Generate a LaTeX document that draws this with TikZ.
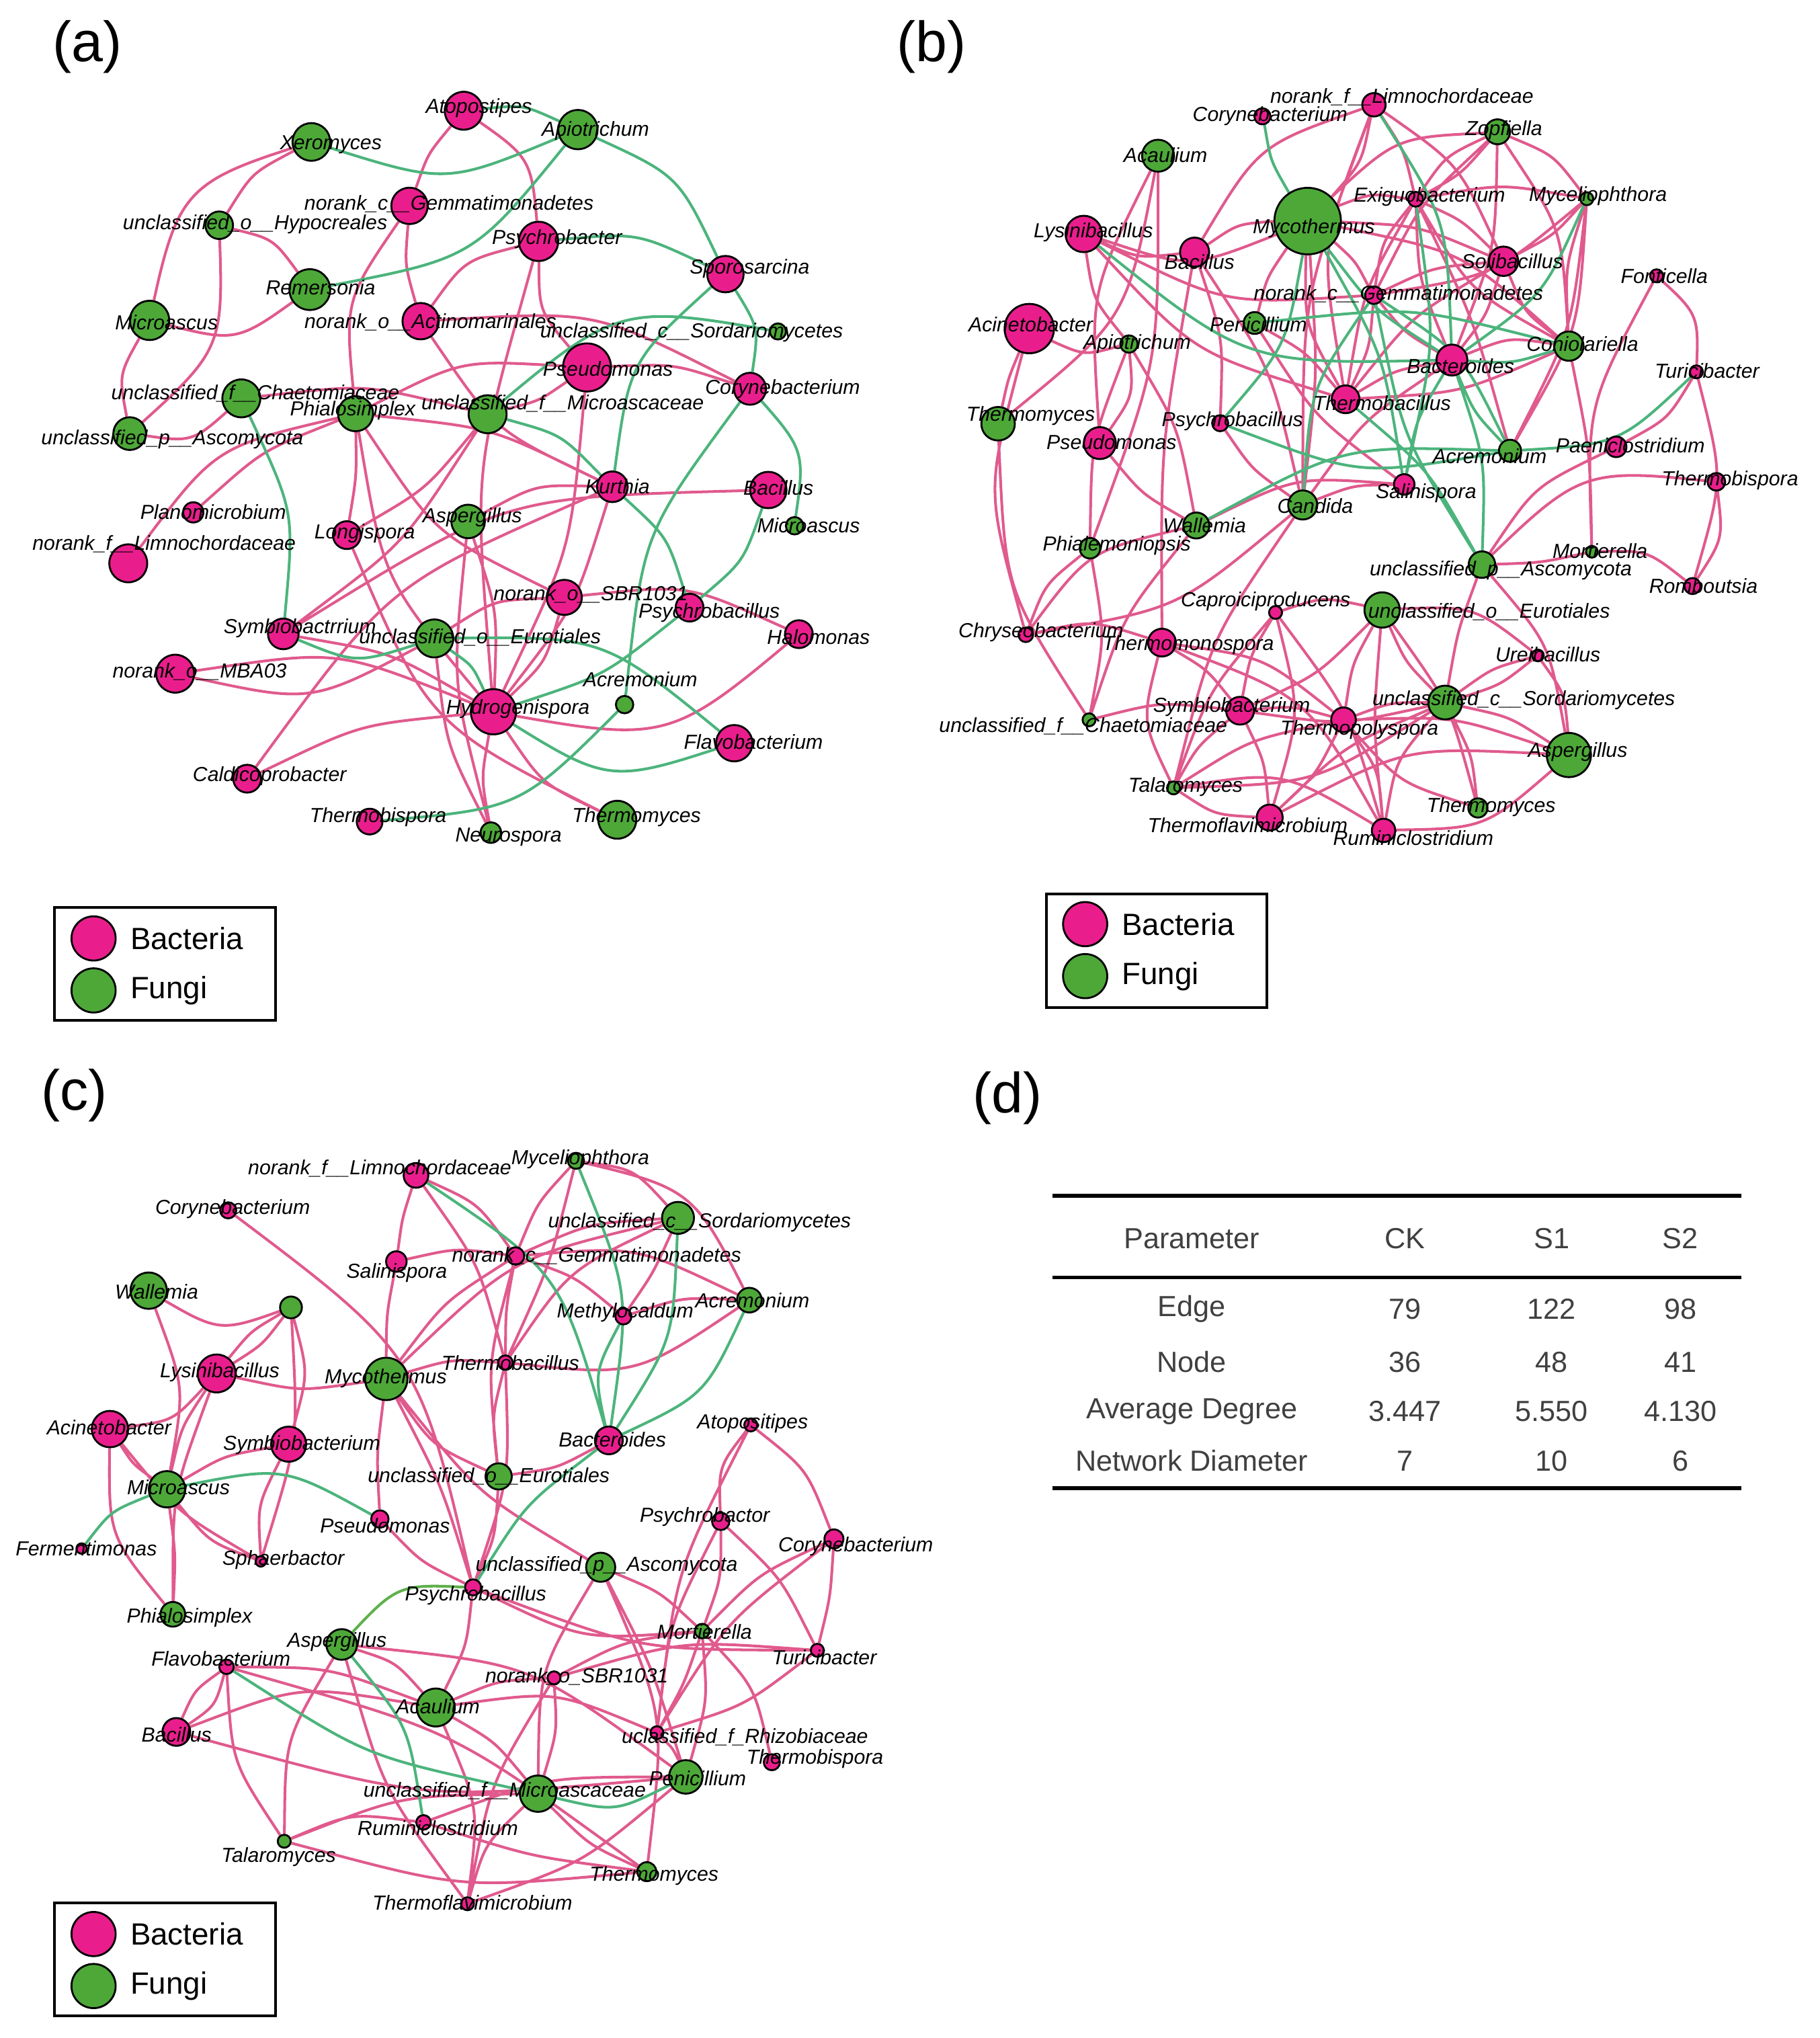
\documentclass[tikz,border=0pt]{standalone}
\usepackage{fontspec}
\setmainfont{Liberation Sans}
\usetikzlibrary{backgrounds}
\definecolor{bacc}{HTML}{E91E8C}
\definecolor{fungc}{HTML}{4DA838}
\definecolor{pedge}{HTML}{E05A8D}
\definecolor{gedge}{HTML}{4CB47C}
\begin{document}
\begin{tikzpicture}[x=0.019336cm,y=-0.019336cm,
    bac/.style={circle,draw=black,line width=0.8pt,fill=bacc,inner sep=0pt,minimum size={#1*0.38672mm}},
    fun/.style={circle,draw=black,line width=0.8pt,fill=fungc,inner sep=0pt,minimum size={#1*0.38672mm}},
    lab/.style={inner sep=0pt,font=\fontsize{8.6}{9}\selectfont\itshape},
    pe/.style={draw=pedge,line width=1.15pt,looseness=1.35},
    ge/.style={draw=gedge,line width=1.15pt,looseness=1.35},
    plab/.style={inner sep=0pt,font=\fontsize{24}{28}\selectfont},
    legbox/.style={draw=black,line width=1.1pt,minimum width={170*0.19336mm},minimum height={87*0.19336mm},inner sep=0pt},
    legt/.style={inner sep=0pt,anchor=west,font=\fontsize{13}{15}\selectfont},
    tab/.style={inner sep=0pt,text=black!75,font=\fontsize{12.3}{14}\selectfont}]
\useasboundingbox (0,0) rectangle (1400,1568);

% panel letters
\node[plab] (pa) at (67,36) {(a)};
\node[plab] (pb) at (717,36) {(b)};
\node[plab] (pc) at (57,843) {(c)};
\node[plab] (pd) at (775,845) {(d)};

% ---------------- (a) CK ----------------
\node[fun=14.5] (aXer) at (239.6,109.2) {};
\node[fun=10.6] (aHyp) at (168.7,173.3) {};
\node[fun=15.7] (aRem) at (238.4,222.8) {};
\node[fun=15.1] (aMic) at (115.1,246.5) {};
\node[bac=14] (aGem) at (315.1,158.4) {};
\node[bac=14] (aAct) at (323.7,247.1) {};
\node[fun=14.6] (aCha) at (185.7,306.5) {};
\node[fun=13.5] (aPhi) at (273.6,318.3) {};
\node[fun=12.6] (aAsc) at (99.8,333.6) {};
\node[bac=14.6] (aAto) at (356.8,85.2) {};
\node[fun=15.1] (aApi) at (444.7,99.7) {};
\node[bac=15.1] (aPsy) at (414.4,185.7) {};
\node[bac=14] (aSpo) at (558.2,210.9) {};
\node[fun=6.2] (aSor) at (598.6,255.0) {};
\node[bac=18.5] (aPse) at (451.7,282.7) {};
\node[bac=12.3] (aCor) at (577.1,299.1) {};
\node[fun=14.6] (aMcs) at (375.2,318.7) {};
\node[bac=7.8] (aPla) at (148.7,394.2) {};
\node[bac=14.6] (aLim) at (98.7,433.4) {};
\node[bac=10.7] (aLon) at (266.9,411.7) {};
\node[bac=11.8] (aSym) at (218.0,487.7) {};
\node[bac=14.6] (aMBA) at (134.8,518.3) {};
\node[bac=10.7] (aCal) at (190.2,599.1) {};
\node[bac=9.9] (aThb) at (284.4,632.1) {};
\node[fun=14.6] (aEur) at (334.2,491.2) {};
\node[bac=11.8] (aKur) at (471.2,374.5) {};
\node[bac=14] (aBac) at (591.2,377.0) {};
\node[fun=6.7] (aMi2) at (611.4,404.5) {};
\node[fun=12.9] (aAsp) at (360.2,401.2) {};
\node[bac=13.5] (aSBR) at (434.2,459.6) {};
\node[bac=10.7] (aPsb) at (530.6,467.5) {};
\node[bac=10.7] (aHal) at (614.7,487.9) {};
\node[fun=6.7] (aAcr) at (480.6,542.1) {};
\node[bac=17.4] (aHyd) at (379.7,547.6) {};
\node[bac=14] (aFla) at (565.0,571.8) {};
\node[fun=14.6] (aThm) at (475.0,630.7) {};
\node[fun=7.9] (aNeu) at (377.7,640.6) {};

% ---------------- (b) S1 ----------------
\node[bac=6.2] (bCor) at (971.4,89.5) {};
\node[bac=9] (bLim) at (1057.2,80.6) {};
\node[fun=12.3] (bAca) at (891.1,119.8) {};
\node[bac=14] (bLys) at (833.9,180.0) {};
\node[fun=25.6] (bMyc) at (1006.2,170.1) {};
\node[bac=11.2] (bBac) at (919.2,194.0) {};
\node[bac=6.8] (bGem) at (1057.2,227.1) {};
\node[bac=19] (bAci) at (792.0,252.8) {};
\node[fun=6.7] (bApi) at (868.7,264.7) {};
\node[fun=8.4] (bPen) at (965.4,248.5) {};
\node[fun=12.9] (bThm) at (768.0,326.0) {};
\node[bac=12.3] (bPse) at (846.3,340.9) {};
\node[bac=6.2] (bPsb) at (938.9,325.6) {};
\node[bac=10.7] (bThb) at (1035.4,307.2) {};
\node[fun=9.6] (bZop) at (1152.3,101.4) {};
\node[bac=5.7] (bExi) at (1089.3,153.3) {};
\node[fun=5] (bMyp) at (1221.0,152.9) {};
\node[bac=11.3] (bSol) at (1156.9,201.0) {};
\node[bac=5] (bFon) at (1274.7,212.2) {};
\node[fun=11.3] (bCon) at (1207.2,266.3) {};
\node[bac=11.9] (bBct) at (1117.2,277.0) {};
\node[bac=5] (bTur) at (1305.3,286.1) {};
\node[fun=8.5] (bAcr) at (1161.9,346.8) {};
\node[bac=7.9] (bPae) at (1243.6,343.8) {};
\node[fun=11.2] (bCan) at (1002.4,388.5) {};
\node[fun=10] (bWal) at (920.5,404.3) {};
\node[fun=7.9] (bPhe) at (838.7,421.8) {};
\node[bac=5] (bCap) at (981.5,471.2) {};
\node[bac=5.6] (bChr) at (789.3,488.4) {};
\node[bac=10.7] (bTmo) at (894.1,494.4) {};
\node[bac=10.7] (bSym) at (954.2,546.8) {};
\node[fun=5] (bCha) at (838.0,553.8) {};
\node[bac=9.5] (bTpo) at (1033.8,553.8) {};
\node[fun=5] (bTal) at (903.0,606.2) {};
\node[bac=10] (bTfl) at (977.0,629.0) {};
\node[bac=7.9] (bSal) at (1080.5,372.7) {};
\node[bac=6.8] (bTbs) at (1320.7,370.7) {};
\node[fun=10.2] (bAsc) at (1140.3,434.4) {};
\node[fun=4.5] (bMor) at (1224.9,424.5) {};
\node[bac=6.2] (bRom) at (1302.3,450.9) {};
\node[fun=13.6] (bEur) at (1063.5,469.3) {};
\node[bac=4.5] (bUre) at (1183.4,504.3) {};
\node[fun=13] (bSor) at (1112.0,540.5) {};
\node[fun=17] (bAsp) at (1207.2,580.9) {};
\node[fun=7.4] (bTm2) at (1137.2,621.6) {};
\node[bac=9] (bRum) at (1064.6,638.9) {};

% ---------------- (c) S2 ----------------
\node[bac=9.5] (cLim) at (320.1,904.3) {};
\node[bac=6.2] (cCor) at (175.6,931.2) {};
\node[bac=7.9] (cSal) at (305.0,970.6) {};
\node[fun=14] (cWal) at (114.4,993.0) {};
\node[fun=8.4] (cUnk) at (223.9,1005.9) {};
\node[bac=14.6] (cLys) at (166.7,1056.7) {};
\node[fun=16.3] (cMyc) at (297.2,1060.9) {};
\node[bac=14] (cAci) at (84.6,1099.5) {};
\node[bac=13.5] (cSym) at (222.1,1111.1) {};
\node[fun=14] (cMic) at (128.5,1145.8) {};
\node[bac=6.7] (cPse) at (292.3,1168.7) {};
\node[fun=6.2] (cMyp) at (443.2,893.1) {};
\node[fun=12.3] (cSor) at (521.7,937.0) {};
\node[bac=6.7] (cGem) at (396.7,966.3) {};
\node[bac=6.2] (cMet) at (479.7,1012.8) {};
\node[fun=9.5] (cAcr) at (576.6,1000.3) {};
\node[bac=5.6] (cThb) at (388.9,1048.4) {};
\node[bac=10.7] (cBct) at (468.5,1108.2) {};
\node[fun=10.1] (cEur) at (383.7,1135.9) {};
\node[bac=5] (cAto) at (577.7,1096.3) {};
\node[bac=6.7] (cPsy) at (554.6,1170.5) {};
\node[bac=7.3] (cCo2) at (641.7,1184.0) {};
\node[bac=4] (cFer) at (62.8,1191.4) {};
\node[bac=4] (cSph) at (200.7,1201.3) {};
\node[fun=9.5] (cPhi) at (133.0,1242.0) {};
\node[fun=11.8] (cAsp) at (262.9,1265.2) {};
\node[bac=5.6] (cFla) at (174.3,1282.4) {};
\node[fun=14.6] (cAca) at (335.3,1313.7) {};
\node[bac=10.7] (cBac) at (135.7,1332.5) {};
\node[bac=5.6] (cRum) at (325.9,1402.1) {};
\node[fun=5] (cTal) at (218.7,1416.6) {};
\node[bac=5] (cTfl) at (359.7,1464.7) {};
\node[fun=11.2] (cAsc) at (462.2,1205.8) {};
\node[bac=6.2] (cPsb) at (364.0,1221.3) {};
\node[fun=5.6] (cMor) at (540.3,1254.9) {};
\node[bac=5] (cTur) at (628.9,1269.7) {};
\node[bac=5] (cSBR) at (426.3,1290.9) {};
\node[bac=5] (cRhi) at (505.5,1333.1) {};
\node[bac=6.2] (cTbs) at (593.9,1355.8) {};
\node[fun=12.9] (cPen) at (527.7,1367.1) {};
\node[fun=14] (cMcs) at (414.0,1380.0) {};
\node[fun=7.3] (cThm) at (497.7,1440.0) {};

% ---------------- edges ----------------
\begin{scope}[on background layer]
\draw[pe]
  (aXer) to[bend right=30] (aMic)  (aXer) to[bend right=15] (aHyp)
  (aHyp) to[bend left=25] (aAsc)   (aMic) to[bend right=20] (aAsc)
  (aHyp) to[bend left=20] (aRem)   (aRem) to[bend left=25] (aMic)
  (aCha) to[bend left=25] (aAsc)   (aGem) to[bend right=10] (aAct)
  (aGem) to[bend right=20] (aPhi)  (aAto) to[bend right=10] (aGem)
  (aAto) to[bend left=25] (aPsy)   (aPsy) to[bend right=20] (aAct)
  (aPsy) to[bend right=20] (aPse)  (aPsy) to[bend right=10] (aHyd)
  (aPse) to[bend left=10] (aCor)   (aAct) to[bend left=15] (aCor)
  (aPhi) to[bend left=15] (aPse)   (aCha) to[bend left=10] (aMcs)
  (aPhi) to[bend left=5] (aLon)    (aPhi) to[bend right=10] (aPla)
  (aPhi) to[bend right=20] (aLim)  (aLon) to[bend right=20] (aThm)
  (aLon) to[bend right=10] (aMcs)  (aMBA) to[bend left=15] (aHyd)
  (aMBA) to[bend right=20] (aEur)  (aCal) to[bend left=10] (aHyd)
  (aCal) to[bend left=15] (aKur)   (aHyd) to[bend right=25] (aHal)
  (aHyd) to[bend right=15] (aThm)  (aSBR) to[bend left=15] (aHal)
  (aEur) to[bend left=15] (aSBR)   (aBac) to[bend right=15] (aSym)
  (aKur) to[bend right=15] (aAsp)  (aKur) to[bend right=10] (aPhi)
  (aNeu) to[bend left=10] (aAsp)   (aAsp) to[bend left=10] (aHyd)
  (aPse) to[bend left=10] (aHyd)   (aPhi) to[bend right=15] (aHyd)
  (aPhi) to[bend right=15] (aSBR)  (aMcs) to[bend left=10] (aSym)
  (aAct) to[bend right=15] (aKur)  (aSym) to[bend left=10] (aHyd)
  (aPse) to[bend left=10] (aMcs)   (aSBR) to[bend left=15] (aHyd)
  (aKur) to[bend left=10] (aHyd)   (aHyd) to[bend right=10] (aNeu)
  (aEur) to[bend right=10] (aNeu);
\draw[ge]
  (aXer) to[bend right=20] (aApi)  (aRem) to[bend right=20] (aApi)
  (aAto) to[bend left=15] (aApi)   (aApi) to[bend left=20] (aSpo)
  (aPsy) to[bend left=15] (aSpo)   (aSpo) to[bend left=20] (aCor)
  (aSpo) to[bend right=20] (aKur)  (aSor) to[bend right=25] (aMcs)
  (aCor) to[bend left=25] (aMi2)   (aAcr) to[bend left=15] (aCor)
  (aMcs) to[bend left=15] (aKur)   (aCha) to[bend left=15] (aSym)
  (aSym) to[bend right=20] (aEur)  (aThb) to[bend right=20] (aAcr)
  (aHyd) to[bend right=25] (aFla)  (aHyd) to[bend right=10] (aPsb)
  (aEur) to[bend left=15] (aHyd)   (aKur) to[bend left=15] (aPsb)
  (aBac) to[bend left=15] (aPsb)   (aEur) to[bend left=20] (aFla);

\draw[pe]
  (bAca) to[bend right=15] (bPse)  (bAca) to[bend left=20] (bThm)
  (bLys) to[bend right=15] (bApi)  (bLys) to[bend right=15] (bBac)
  (bLys) to[bend right=20] (bMyc)  (bLys) to[bend right=15] (bGem)
  (bLys) to[bend right=15] (bThb)  (bAci) to[bend right=20] (bApi)
  (bAci) to[bend right=5] (bThm)   (bAci) to[bend right=15] (bChr)
  (bThm) to[bend right=15] (bCha)  (bApi) to[bend right=10] (bPhe)
  (bApi) to[bend left=20] (bPse)   (bBac) to[bend left=15] (bMyc)
  (bBac) to[bend left=20] (bLim)   (bBac) to[bend left=10] (bPsb)
  (bBac) to[bend right=5] (bTmo)   (bBac) to[bend left=10] (bCan)
  (bMyc) to[bend left=10] (bGem)   (bMyc) to[bend left=15] (bExi)
  (bMyc) to[bend left=10] (bSol)   (bMyc) to[bend right=15] (bThb)
  (bMyc) to[bend left=15] (bCon)   (bMyc) to[bend left=20] (bZop)
  (bMyc) to[bend right=15] (bLim)  (bMyc) to[bend left=5] (bCan)
  (bMyc) to[bend right=10] (bPen)  (bLim) to[bend left=10] (bExi)
  (bLim) to[bend left=15] (bSol)   (bLim) to[bend right=10] (bCan)
  (bLim) to[bend right=15] (bThb)  (bZop) to[bend right=15] (bExi)
  (bZop) to[bend left=10] (bExi)   (bZop) to[bend right=10] (bGem)
  (bZop) to[bend left=10] (bBct)   (bZop) to[bend left=15] (bMyp)
  (bZop) to[bend left=15] (bCon)   (bExi) to[bend left=10] (bSol)
  (bExi) to[bend right=10] (bBct)  (bExi) to[bend left=10] (bMyp)
  (bExi) to[bend right=15] (bCon)  (bExi) to[bend right=10] (bThb)
  (bExi) to[bend right=15] (bGem)  (bExi) to[bend left=5] (bAcr)
  (bMyp) to[bend left=10] (bSol)   (bMyp) to[bend left=15] (bGem)
  (bMyp) to[bend right=10] (bCon)  (bMyp) to[bend left=10] (bAcr)
  (bMyp) to[bend left=13] (bAcr)   (bSol) to[bend right=10] (bGem)
  (bSol) to[bend left=10] (bBct)   (bSol) to[bend right=15] (bCon)
  (bSol) to[bend right=10] (bThb)  (bFon) to[bend left=25] (bTur)
  (bFon) to[bend right=15] (bMor)  (bTur) to[bend left=15] (bPae)
  (bTur) to[bend left=15] (bRom)   (bTbs) to[bend left=20] (bRom)
  (bTbs) to[bend right=25] (bAsc)  (bMor) to[bend left=20] (bRom)
  (bMor) to[bend left=5] (bAsc)    (bMor) to[bend right=5] (bCon)
  (bAsc) to[bend right=5] (bSor)   (bAsc) to[bend left=15] (bAsp)
  (bEur) to[bend right=10] (bSor)  (bEur) to[bend left=20] (bUre)
  (bEur) to[bend left=10] (bTm2)   (bEur) to[bend right=5] (bRum)
  (bEur) to[bend right=10] (bTpo)  (bEur) to[bend right=15] (bCap)
  (bEur) to[bend left=10] (bSym)   (bUre) to[bend right=10] (bSor)
  (bUre) to[bend left=10] (bSor)   (bUre) to[bend left=15] (bAsp)
  (bSor) to[bend left=10] (bAsp)   (bSor) to[bend left=10] (bTm2)
  (bSor) to[bend right=15] (bRum)  (bSor) to[bend right=10] (bTpo)
  (bSor) to[bend left=10] (bSym)   (bSor) to[bend left=15] (bTal)
  (bSor) to[bend right=10] (bTfl)  (bAsp) to[bend left=20] (bRum)
  (bAsp) to[bend right=15] (bTfl)  (bAsp) to[bend right=10] (bTpo)
  (bCap) to[bend right=10] (bSym)  (bCap) to[bend left=10] (bRum)
  (bCap) to[bend left=15] (bTfl)   (bTmo) to[bend left=10] (bSym)
  (bTmo) to[bend left=15] (bTpo)   (bTmo) to[bend right=20] (bTal)
  (bTmo) to[bend left=20] (bRum)   (bSym) to[bend left=10] (bTpo)
  (bSym) to[bend right=10] (bTal)  (bSym) to[bend left=10] (bTfl)
  (bTal) to[bend left=10] (bTpo)   (bTal) to[bend right=15] (bTfl)
  (bTal) to[bend left=20] (bRum)   (bTal) to[bend left=10] (bCap)
  (bTpo) to[bend left=10] (bTfl)   (bTpo) to[bend left=15] (bRum)
  (bTpo) to[bend right=15] (bTm2)  (bPhe) to[bend right=15] (bChr)
  (bPhe) to[bend left=10] (bCha)   (bPhe) to[bend right=10] (bAca)
  (bWal) to[bend left=15] (bSal)   (bWal) to[bend right=20] (bChr)
  (bWal) to[bend right=10] (bCha)  (bCan) to[bend left=15] (bChr)
  (bCan) to[bend right=10] (bTal)  (bCan) to[bend left=10] (bSal)
  (bPsb) to[bend right=10] (bCan)  (bPen) to[bend left=10] (bThb)
  (bPen) to[bend right=10] (bSal)  (bThb) to[bend left=10] (bBct)
  (bThb) to[bend right=10] (bCon)  (bPse) to[bend right=10] (bWal)
  (bApi) to[bend left=10] (bWal)   (bCha) to[bend left=10] (bSym)
  (bChr) to[bend left=15] (bTmo)   (bGem) to[bend right=10] (bBct)
  (bGem) to[bend left=10] (bThb)   (bBct) to[bend left=15] (bCon)
  (bBct) to[bend right=10] (bCan)  (bPae) to[bend right=15] (bAsc);
\draw[ge]
  (bCor) to[bend right=10] (bMyc)  (bLys) to[bend right=20] (bBct)
  (bMyc) to[bend left=15] (bPsb)   (bPsb) to[bend right=15] (bAcr)
  (bPen) to[bend left=10] (bCon)   (bMyc) to[bend right=10] (bBct)
  (bMyc) to[bend left=10] (bSal)   (bLim) to[bend left=15] (bBct)
  (bMyp) to[bend left=15] (bBct)   (bCon) to[bend left=10] (bBct)
  (bBct) to[bend right=10] (bSal)  (bBct) to[bend right=10] (bAcr)
  (bTur) to[bend left=20] (bAcr)   (bWal) to[bend left=15] (bAcr)
  (bGem) to[bend right=15] (bCan)  (bGem) to[bend left=15] (bAcr)
  (bThb) to[bend left=10] (bAsc)   (bGem) to[bend right=10] (bAsc)
  (bBct) to[bend left=10] (bAsc)   (bExi) to[bend left=10] (bSal);

\draw[pe]
  (cLim) to[bend right=5] (cSal)   (cLim) to[bend left=10] (cThb)
  (cLim) to[bend left=15] (cGem)   (cCor) to[bend left=20] (cPsb)
  (cSal) to[bend right=5] (cMyc)   (cSal) to[bend left=10] (cGem)
  (cWal) to[bend right=25] (cUnk)  (cWal) to[bend left=15] (cMic)
  (cUnk) to[bend left=10] (cLys)   (cUnk) to[bend right=10] (cLys)
  (cUnk) to[bend left=15] (cSym)   (cUnk) to[bend left=10] (cSph)
  (cLys) to[bend right=10] (cMyc)  (cLys) to[bend left=20] (cAci)
  (cLys) to[bend right=10] (cMic)  (cLys) to[bend right=10] (cPhi)
  (cAci) to[bend right=10] (cMic)  (cAci) to[bend right=20] (cPhi)
  (cAci) to[bend right=10] (cSph)  (cSym) to[bend right=10] (cMic)
  (cSym) to[bend right=15] (cSph)  (cMic) to[bend right=15] (cSph)
  (cMic) to[bend left=5] (cPhi)    (cMyc) to[bend left=10] (cThb)
  (cMyc) to[bend left=10] (cGem)   (cMyc) to[bend left=15] (cSor)
  (cMyc) to[bend right=5] (cPse)   (cMyc) to[bend left=5] (cPsb)
  (cMyc) to[bend right=15] (cEur)  (cMyc) to[bend right=10] (cAsc)
  (cMyp) to[bend right=10] (cGem)  (cMyp) to[bend left=5] (cThb)
  (cMyp) to[bend left=20] (cSor)   (cMyp) to[bend left=25] (cAcr)
  (cSor) to[bend right=10] (cGem)  (cSor) to[bend left=5] (cMet)
  (cSor) to[bend right=15] (cThb)  (cGem) to[bend left=10] (cMet)
  (cGem) to[bend right=5] (cThb)   (cGem) to[bend left=15] (cAcr)
  (cGem) to[bend right=10] (cEur)  (cMet) to[bend left=10] (cAcr)
  (cThb) to[bend right=20] (cAcr)  (cThb) to[bend right=10] (cEur)
  (cThb) to[bend left=10] (cPsb)   (cEur) to[bend right=10] (cBct)
  (cEur) to[bend left=10] (cPsb)   (cPse) to[bend right=10] (cPsb)
  (cAto) to[bend right=20] (cPsy)  (cAto) to[bend left=15] (cCo2)
  (cAto) to[bend right=10] (cRhi)  (cPsy) to[bend right=10] (cRhi)
  (cPsy) to[bend left=10] (cMor)   (cPsy) to[bend left=10] (cTur)
  (cCo2) to[bend left=5] (cTur)    (cCo2) to[bend right=10] (cMor)
  (cCo2) to[bend right=10] (cRhi)  (cAsc) to[bend left=10] (cMor)
  (cAsc) to[bend left=15] (cThm)   (cAsc) to[bend right=15] (cMcs)
  (cAsc) to[bend left=5] (cPen)    (cPsb) to[bend right=15] (cMor)
  (cPsb) to[bend right=10] (cTur)  (cPsb) to[bend left=10] (cAca)
  (cMor) to[bend left=5] (cRhi)    (cMor) to[bend left=10] (cPen)
  (cMor) to[bend left=15] (cTbs)   (cMor) to[bend right=10] (cSBR)
  (cTur) to[bend left=10] (cRhi)   (cTur) to[bend right=10] (cSBR)
  (cSBR) to[bend right=10] (cAca)  (cSBR) to[bend left=10] (cMcs)
  (cSBR) to[bend right=10] (cTfl)  (cRhi) to[bend left=10] (cPen)
  (cRhi) to[bend right=15] (cAca)  (cAca) to[bend right=10] (cFla)
  (cAca) to[bend left=10] (cMcs)   (cAca) to[bend left=15] (cTfl)
  (cAca) to[bend right=15] (cAsp)  (cFla) to[bend left=20] (cBac)
  (cFla) to[bend right=15] (cBac)  (cFla) to[bend right=15] (cTal)
  (cFla) to[bend left=10] (cThm)   (cBac) to[bend left=15] (cAca)
  (cBac) to[bend right=10] (cPen)  (cTal) to[bend left=15] (cRum)
  (cTal) to[bend left=10] (cMcs)   (cTal) to[bend right=10] (cThm)
  (cTal) to[bend left=15] (cAsp)   (cAsp) to[bend right=10] (cTfl)
  (cAsp) to[bend left=15] (cPen)   (cRum) to[bend right=5] (cThm)
  (cRum) to[bend left=10] (cPen)   (cMcs) to[bend right=10] (cThm)
  (cMcs) to[bend right=15] (cTfl)  (cPen) to[bend left=10] (cTfl);
\draw[ge]
  (cLim) to[bend left=20] (cBct)   (cMyp) to[bend left=15] (cBct)
  (cSor) to[bend left=15] (cBct)   (cMet) to[bend right=20] (cBct)
  (cAcr) to[bend left=20] (cBct)   (cBct) to[bend right=10] (cPsb)
  (cMic) to[bend left=20] (cPse)   (cMic) to[bend right=15] (cFer)
  (cAsp) to[bend left=15] (cRum)   (cFla) to[bend right=10] (cMcs)
  (cMcs) to[bend right=20] (cPen);
\draw[draw=fungc!90!white,line width=1.15pt,looseness=1.35] (cPsb) to[bend right=25] (cAsp);
\end{scope}

% ---------------- labels (a) ----------------
\node[lab] (aXer-t) at (254.6,111.1) {Xeromyces};
\node[lab] (aHyp-t) at (196.3,172.5) {unclassified\_o\_\_Hypocreales};
\node[lab] (aRem-t) at (246.7,221.4) {Remersonia};
\node[lab] (aMic-t) at (128.1,248.1) {Microascus};
\node[lab] (aGem-t) at (345.5,156.8) {norank\_c\_\_Gemmatimonadetes};
\node[lab] (aAct-t) at (331.2,248.1) {norank\_o\_\_Actinomarinales};
\node[lab] (aCha-t) at (196.5,302.5) {unclassified\_f\_\_Chaetomiaceae};
\node[lab] (aPhi-t) at (271.4,315.8) {Phialosimplex};
\node[lab] (aAsc-t) at (132.6,338.1) {unclassified\_p\_\_Ascomycota};
\node[lab] (aAto-t) at (368.5,83.2) {Atopostipes};
\node[lab] (aApi-t) at (458.2,100.7) {Apiotrichum};
\node[lab] (aPsy-t) at (428.6,183.8) {Psychrobacter};
\node[lab] (aSpo-t) at (576.8,206.5) {Sporosarcina};
\node[lab] (aSor-t) at (532.2,256.0) {unclassified\_c\_\_Sordariomycetes};
\node[lab] (aPse-t) at (467.8,283.7) {Pseudomonas};
\node[lab] (aCor-t) at (602.2,299.5) {Corynebacterium};
\node[lab] (aMcs-t) at (433.0,310.4) {unclassified\_f\_\_Microascaceae};
\node[lab] (aPla-t) at (164.0,393.7) {Planomicrobium};
\node[lab] (aLim-t) at (126.3,418.6) {norank\_f\_\_Limnochordaceae};
\node[lab] (aLon-t) at (280.6,410.7) {Longispora};
\node[lab] (aSym-t) at (230.8,483.3) {Symbiobactrrium};
\node[lab] (aMBA-t) at (153.6,516.6) {norank\_o\_\_MBA03};
\node[lab] (aCal-t) at (207.5,597.1) {Caldicoprobacter};
\node[lab] (aThb-t) at (290.9,628.8) {Thermobispora};
\node[lab] (aEur-t) at (369.4,490.2) {unclassified\_o\_\_Eurotiales};
\node[lab] (aKur-t) at (475.2,374.5) {Kurthia};
\node[lab] (aBac-t) at (599.0,375.4) {Bacillus};
\node[lab] (aMi2-t) at (622.1,404.1) {Microascus};
\node[lab] (aAsp-t) at (363.4,398.2) {Aspergillus};
\node[lab] (aSBR-t) at (454.6,457.6) {norank\_o\_\_SBR1031};
\node[lab] (aPsb-t) at (545.7,471.4) {Psychrobacillus};
\node[lab] (aHal-t) at (629.8,490.2) {Halomonas};
\node[lab] (aAcr-t) at (492.7,522.9) {Acremonium};
\node[lab] (aHyd-t) at (398.5,545.6) {Hydrogenispora};
\node[lab] (aFla-t) at (579.7,571.0) {Flavobacterium};
\node[lab] (aThm-t) at (489.8,628.8) {Thermomyces};
\node[lab] (aNeu-t) at (391.3,644.2) {Neurospora};

% ---------------- labels (b) ----------------
\node[lab] (bCor-t) at (977.3,89.5) {Corynebacterium};
\node[lab] (bLim-t) at (1078.7,74.7) {norank\_f\_\_Limnochordaceae};
\node[lab] (bAca-t) at (896.8,119.2) {Acaulium};
\node[lab] (bLys-t) at (841.3,178.6) {Lysinibacillus};
\node[lab] (bMyc-t) at (1010.9,175.6) {Mycothermus};
\node[lab] (bBac-t) at (923.0,201.4) {Bacillus};
\node[lab] (bGem-t) at (1076.1,226.1) {norank\_c\_\_Gemmatimonadetes};
\node[lab] (bAci-t) at (793.1,249.8) {Acinetobacter};
\node[lab] (bApi-t) at (875.0,264.7) {Apiotrichum};
\node[lab] (bPen-t) at (968.3,249.8) {Penicillium};
\node[lab] (bThm-t) at (793.1,319.7) {Thermomyces};
\node[lab] (bPse-t) at (855.3,340.3) {Pseudomonas};
\node[lab] (bPsb-t) at (948.3,324.0) {Psychrobacillus};
\node[lab] (bThb-t) at (1063.4,310.2) {Thermobacillus};
\node[lab] (bZop-t) at (1157.1,100.0) {Zopfiella};
\node[lab] (bExi-t) at (1100.0,151.5) {Exiguobacterium};
\node[lab] (bMyp-t) at (1229.6,150.9) {Myceliophthora};
\node[lab] (bSol-t) at (1163.7,201.0) {Solibacillus};
\node[lab] (bFon-t) at (1280.6,212.2) {Fonticella};
\node[lab] (bCon-t) at (1217.6,264.7) {Coniolariella};
\node[lab] (bBct-t) at (1123.8,281.5) {Bacteroides};
\node[lab] (bTur-t) at (1313.5,285.5) {Turicibacter};
\node[lab] (bAcr-t) at (1146.2,350.8) {Acremonium};
\node[lab] (bPae-t) at (1254.5,342.9) {Paeniclostridium};
\node[lab] (bCan-t) at (1012.0,389.5) {Candida};
\node[lab] (bWal-t) at (926.8,404.0) {Wallemia};
\node[lab] (bPhe-t) at (859.3,419.8) {Phialemoniopsis};
\node[lab] (bCap-t) at (973.9,462.7) {Caproiciproducens};
\node[lab] (bChr-t) at (801.0,486.5) {Chryseobacterium};
\node[lab] (bTmo-t) at (914.2,496.4) {Thermomonospora};
\node[lab] (bSym-t) at (947.7,543.9) {Symbiobacterium};
\node[lab] (bCha-t) at (833.5,558.7) {unclassified\_f\_\_Chaetomiaceae};
\node[lab] (bTpo-t) at (1046.0,561.7) {Thermopolyspora};
\node[lab] (bTal-t) at (912.2,605.2) {Talaromyces};
\node[lab] (bTfl-t) at (960.0,634.9) {Thermoflavimicrobium};
\node[lab] (bSal-t) at (1097.3,379.6) {Salinispora};
\node[lab] (bTbs-t) at (1331.1,369.7) {Thermobispora};
\node[lab] (bAsc-t) at (1154.8,439.0) {unclassified\_p\_\_Ascomycota};
\node[lab] (bMor-t) at (1231.2,424.1) {Mortierella};
\node[lab] (bRom-t) at (1310.7,450.9) {Romboutsia};
\node[lab] (bEur-t) at (1145.8,470.6) {unclassified\_o\_\_Eurotiales};
\node[lab] (bUre-t) at (1191.1,503.7) {Ureibacillus};
\node[lab] (bSor-t) at (1172.5,538.9) {unclassified\_c\_\_Sordariomycetes};
\node[lab] (bAsp-t) at (1214.0,578.5) {Aspergillus};
\node[lab] (bTm2-t) at (1147.4,621.0) {Thermomyces};
\node[lab] (bRum-t) at (1087.5,644.8) {Ruminiclostridium};

% ---------------- labels (c) ----------------
\node[lab] (cLim-t) at (292.2,899.0) {norank\_f\_\_Limnochordaceae};
\node[lab] (cCor-t) at (179.0,930.3) {Corynebacterium};
\node[lab] (cSal-t) at (305.3,979.1) {Salinispora};
\node[lab] (cWal-t) at (120.5,994.0) {Wallemia};
\node[lab] (cLys-t) at (169.1,1055.9) {Lysinibacillus};
\node[lab] (cMyc-t) at (296.8,1060.3) {Mycothermus};
\node[lab] (cAci-t) at (83.9,1098.5) {Acinetobacter};
\node[lab] (cSym-t) at (232.2,1111.7) {Symbiobacterium};
\node[lab] (cMic-t) at (137.3,1144.4) {Microascus};
\node[lab] (cPse-t) at (296.3,1173.7) {Pseudomonas};
\node[lab] (cMyp-t) at (446.5,892.1) {Myceliophthora};
\node[lab] (cSor-t) at (538.3,940.5) {unclassified\_c\_\_Sordariomycetes};
\node[lab] (cGem-t) at (459.1,966.3) {norank\_c\_\_Gemmatimonadetes};
\node[lab] (cMet-t) at (481.1,1009.8) {Methylocaldum};
\node[lab] (cAcr-t) at (578.9,1000.3) {Acremonium};
\node[lab] (cThb-t) at (392.7,1048.4) {Thermobacillus};
\node[lab] (cBct-t) at (471.2,1107.8) {Bacteroides};
\node[lab] (cEur-t) at (376.1,1135.9) {unclassified\_o\_\_Eurotiales};
\node[lab] (cAto-t) at (579.1,1095.3) {Atopositipes};
\node[lab] (cPsy-t) at (542.3,1167.1) {Psychrobactor};
\node[lab] (cCo2-t) at (658.5,1190.0) {Corynebacterium};
\node[lab] (cFer-t) at (66.4,1191.4) {Fermentimonas};
\node[lab] (cSph-t) at (218.0,1199.9) {Sphaerbactor};
\node[lab] (cPhi-t) at (145.8,1244.4) {Phialosimplex};
\node[lab] (cAsp-t) at (259.3,1263.2) {Aspergillus};
\node[lab] (cFla-t) at (170.0,1276.1) {Flavobacterium};
\node[lab] (cAca-t) at (337.0,1313.0) {Acaulium};
\node[lab] (cBac-t) at (135.9,1334.4) {Bacillus};
\node[lab] (cRum-t) at (336.9,1406.7) {Ruminiclostridium};
\node[lab] (cTal-t) at (214.4,1428.9) {Talaromyces};
\node[lab] (cTfl-t) at (363.5,1464.1) {Thermoflavimicrobium};
\node[lab] (cAsc-t) at (466.7,1204.8) {unclassified\_p\_\_Ascomycota};
\node[lab] (cPsb-t) at (366.0,1227.6) {Psychrobacillus};
\node[lab] (cMor-t) at (542.1,1255.3) {Mortierella};
\node[lab] (cTur-t) at (634.3,1275.1) {Turicibacter};
\node[lab] (cSBR-t) at (443.8,1289.9) {norank\_o\_SBR1031};
\node[lab] (cRhi-t) at (573.2,1336.4) {uclassified\_f\_Rhizobiaceae};
\node[lab] (cTbs-t) at (627.1,1353.3) {Thermobispora};
\node[lab] (cPen-t) at (536.7,1368.1) {Penicillium};
\node[lab] (cMcs-t) at (388.3,1378.0) {unclassified\_f\_\_Microascaceae};
\node[lab] (cThm-t) at (503.3,1443.3) {Thermomyces};

% ---------------- legends ----------------
\node[legbox] (legA) at (127,741.5) {};
\node[bac=17] (legA-b) at (72,722) {};
\node[fun=17] (legA-f) at (72,762) {};
\node[legt] (legA-bt) at (100,722) {Bacteria};
\node[legt] (legA-ft) at (100,762) {Fungi};

\node[legbox] (legB) at (890,731.5) {};
\node[bac=17] (legB-b) at (835,711) {};
\node[fun=17] (legB-f) at (835,751) {};
\node[legt] (legB-bt) at (863,711) {Bacteria};
\node[legt] (legB-ft) at (863,751) {Fungi};

\node[legbox] (legC) at (127,1507.5) {};
\node[bac=17] (legC-b) at (72,1488) {};
\node[fun=17] (legC-f) at (72,1528) {};
\node[legt] (legC-bt) at (100,1488) {Bacteria};
\node[legt] (legC-ft) at (100,1528) {Fungi};

% ---------------- (d) table ----------------
\draw[line width=1.5pt] (810,920) -- (1340,920);
\draw[line width=1.5pt] (810,983) -- (1340,983);
\draw[line width=1.5pt] (810,1145) -- (1340,1145);
\node[tab] (hPar) at (917,953) {Parameter};
\node[tab] (hCK) at (1081,953) {CK};
\node[tab] (hS1) at (1194,953) {S1};
\node[tab] (hS2) at (1293,953) {S2};
\node[tab] (rEdge) at (917,1007) {Edge};
\node[tab] (rEdgeA) at (1081,1007) {79};
\node[tab] (rEdgeB) at (1194,1007) {122};
\node[tab] (rEdgeC) at (1293,1007) {98};
\node[tab] (rNode) at (917,1048) {Node};
\node[tab] (rNodeA) at (1081,1048) {36};
\node[tab] (rNodeB) at (1194,1048) {48};
\node[tab] (rNodeC) at (1293,1048) {41};
\node[tab] (rDeg) at (917,1086) {Average Degree};
\node[tab] (rDegA) at (1081,1086) {3.447};
\node[tab] (rDegB) at (1194,1086) {5.550};
\node[tab] (rDegC) at (1293,1086) {4.130};
\node[tab] (rDia) at (917,1124) {Network Diameter};
\node[tab] (rDiaA) at (1081,1124) {7};
\node[tab] (rDiaB) at (1194,1124) {10};
\node[tab] (rDiaC) at (1293,1124) {6};
\end{tikzpicture}
\end{document}
